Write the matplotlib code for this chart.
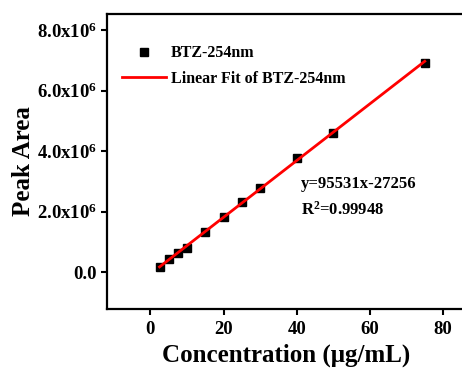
import numpy as np
import matplotlib
matplotlib.use("Agg")
import matplotlib.pyplot as plt

plt.rcParams['font.family'] = ['Liberation Serif', 'DejaVu Serif']
plt.rcParams['font.weight'] = 'bold'
plt.rcParams['mathtext.fontset'] = 'custom'
plt.rcParams['mathtext.rm'] = 'Liberation Serif:bold'
plt.rcParams['mathtext.default'] = 'rm'

# Calibration data: concentration (ug/mL) vs peak area
concentration = [2.5, 5, 7.5, 10, 15, 20, 25, 30, 40, 50, 75]
peak_area = [0.175e6, 0.43e6, 0.62e6, 0.80e6, 1.31e6, 1.82e6, 2.32e6,
             2.77e6, 3.78e6, 4.61e6, 6.92e6]

# Reported fit statistics
slope = 95531
intercept = -27256
r_squared = 0.99948

x_ticks = [0, 20, 40, 60, 80]
y_ticks = [0, 2e6, 4e6, 6e6, 8e6]
y_tick_labels = ['0.0', '2.0x10$^{6}$', '4.0x10$^{6}$', '6.0x10$^{6}$', '8.0x10$^{6}$']

fig = plt.figure(figsize=(4.62, 3.70), dpi=100)
ax = fig.add_axes([106.5 / 462, 1 - 309 / 370, (465 - 106.5) / 462, (309 - 14) / 370])

ax.plot(concentration, peak_area, 's', color='black', markersize=5.5,
        label='BTZ-254nm', zorder=2)

# Least-squares line through the measured points
coef = np.polyfit(concentration, peak_area, 1)
xfit = np.array([concentration[0], concentration[-1]])
ax.plot(xfit, np.polyval(coef, xfit), '-', color='#ff0000', linewidth=2.0,
        label='Linear Fit of BTZ-254nm', zorder=3)

ax.set_xlim(-12, 86)
ax.set_ylim(-1.22e6, 8.53e6)
ax.set_xticks(x_ticks)
ax.set_yticks(y_ticks)
ax.set_yticklabels(y_tick_labels)

for s in ax.spines.values():
    s.set_linewidth(1.6)
ax.tick_params(direction='out', length=4, width=1.5, labelsize=13.5, pad=3)
ax.tick_params(axis='x', pad=5)

ax.set_xlabel('Concentration (μg/mL)', fontsize=18, fontweight='bold', labelpad=4)
ax.set_ylabel('Peak Area', fontsize=18, fontweight='bold', labelpad=1)

leg = ax.legend(loc='upper left', bbox_to_anchor=(0.003, 0.942), frameon=False,
                fontsize=11.5, handlelength=2.75, handletextpad=0.3,
                labelspacing=0.6)

ax.text(0.542, 0.423, 'y=%dx%d' % (slope, intercept), transform=ax.transAxes,
        fontsize=12, fontweight='bold', va='center')
ax.text(0.542, 0.335, 'R$^{2}$=%.5f' % r_squared, transform=ax.transAxes,
        fontsize=12, fontweight='bold', va='center')

fig.savefig('out.png', dpi=100)
